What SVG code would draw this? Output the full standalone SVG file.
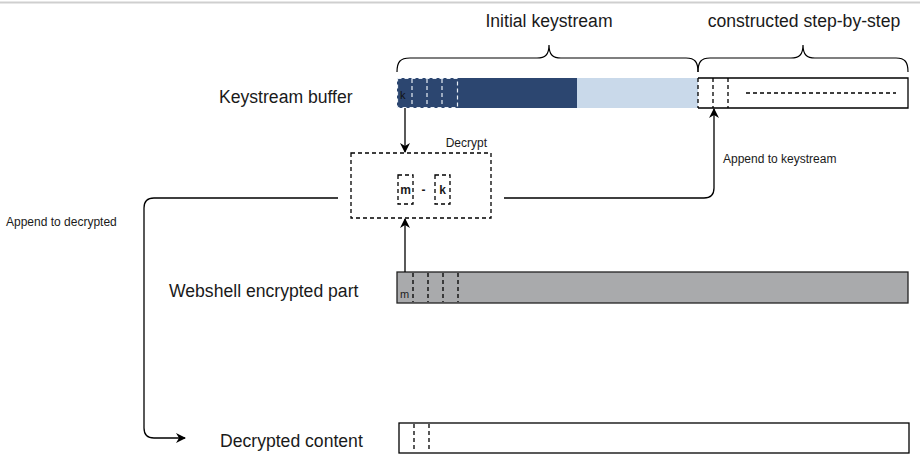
<svg xmlns="http://www.w3.org/2000/svg" width="920" height="470" viewBox="0 0 920 470">
<defs>
<style>
text{font-family:"Liberation Sans",Arial,Helvetica,sans-serif;fill:#1a1a1a}
.big{font-size:17.6px}
.sm{font-size:12px}
.edge{fill:none;stroke:#000;stroke-width:1.3}
.dash{fill:none;stroke:#000;stroke-width:1.3;stroke-dasharray:4 3}
.wdash{fill:none;stroke:#e8eef6;stroke-width:1.2;stroke-dasharray:4 3}
.brace{fill:none;stroke:#000;stroke-width:1.2}
</style>
<marker id="arr" viewBox="0 0 10 10" refX="9" refY="5" markerWidth="10" markerHeight="10" markerUnits="userSpaceOnUse" orient="auto">
<path d="M0,0 L10,5 L0,10 L3,5 Z" fill="#000"/>
</marker>
</defs>
<rect width="920" height="470" fill="#fff"/>
<line x1="0" y1="2.5" x2="920" y2="2.5" stroke="#cfcfcf" stroke-width="2"/>

<g id="braces">
<path class="brace" d="M397,72 C397,62 400,58 410,58 L537,58 C545,58 549,55 549,45 C549,55 553,58 561,58 L686,58 C695,58 698,62 698,72"/>
<path class="brace" d="M698,72 C698,62 701,58 710,58 L791,58 C799,58 803,55 803,45 C803,55 807,58 815,58 L896,58 C905,58 908,62 908,72"/>
<text class="big" x="549" y="27" text-anchor="middle">Initial keystream</text>
<text class="big" x="804" y="27" text-anchor="middle">constructed step-by-step</text>
</g>

<g id="keystream-buffer">
<text class="big" x="219" y="103">Keystream buffer</text>
<rect x="397" y="78" width="180" height="30" fill="#2c4670"/>
<rect x="577" y="78" width="121" height="30" fill="#c9d9ea"/>
<rect x="397.5" y="78.5" width="60" height="29" class="wdash"/>
<line x1="412" y1="79" x2="412" y2="107" class="wdash"/>
<line x1="427" y1="79" x2="427" y2="107" class="wdash"/>
<line x1="442" y1="79" x2="442" y2="107" class="wdash"/>
<text x="400" y="99" style="font-size:11px;fill:#111">k</text>
<path class="edge" d="M698,78 L908,78 L908,108 L698,108"/>
<line x1="698" y1="78" x2="698" y2="108" class="dash"/>
<line x1="713" y1="78" x2="713" y2="108" class="dash"/>
<line x1="728" y1="78" x2="728" y2="108" class="dash"/>
<line x1="746" y1="93" x2="896" y2="93" class="dash"/>
</g>

<g id="decrypt">
<rect x="351" y="153" width="140" height="65" class="dash"/>
<text class="sm" x="487" y="147" text-anchor="end">Decrypt</text>
<rect x="398" y="175" width="15" height="29" class="dash"/>
<rect x="435" y="175" width="15" height="29" class="dash"/>
<text x="405.5" y="194" text-anchor="middle" style="font-size:12px;font-weight:bold">m</text>
<text x="423.5" y="194" text-anchor="middle" style="font-size:12px;font-weight:bold">-</text>
<text x="442.5" y="194" text-anchor="middle" style="font-size:12px;font-weight:bold">k</text>
</g>

<g id="webshell-encrypted">
<text class="big" x="169" y="297">Webshell encrypted part</text>
<rect x="397" y="272" width="511" height="31" fill="#a9aaac" stroke="#222" stroke-width="1.3"/>
<line x1="413" y1="273" x2="413" y2="302" class="dash"/>
<line x1="428" y1="273" x2="428" y2="302" class="dash"/>
<line x1="443" y1="273" x2="443" y2="302" class="dash"/>
<line x1="458" y1="273" x2="458" y2="302" class="dash"/>
<text x="400" y="298" style="font-size:11px;fill:#222">m</text>
</g>

<g id="decrypted-content">
<text class="big" x="220" y="447">Decrypted content</text>
<rect x="399" y="423" width="510" height="30" fill="#fff" stroke="#000" stroke-width="1.3"/>
<line x1="414" y1="424" x2="414" y2="452" class="dash"/>
<line x1="429" y1="424" x2="429" y2="452" class="dash"/>
</g>

<g id="connectors">
<line x1="405" y1="108" x2="405" y2="152" class="edge" marker-end="url(#arr)"/>
<line x1="405" y1="272" x2="405" y2="219" class="edge" marker-end="url(#arr)"/>
<path class="edge" d="M504,198 L704,198 Q714,198 714,188 L714,109" marker-end="url(#arr)"/>
<text class="sm" x="723" y="163">Append to keystream</text>
<path class="edge" d="M338,198 L154,198 Q144,198 144,208 L144,428 Q144,438 154,438 L185,438" marker-end="url(#arr)"/>
<text class="sm" x="6" y="226">Append to decrypted</text>
</g>
</svg>
